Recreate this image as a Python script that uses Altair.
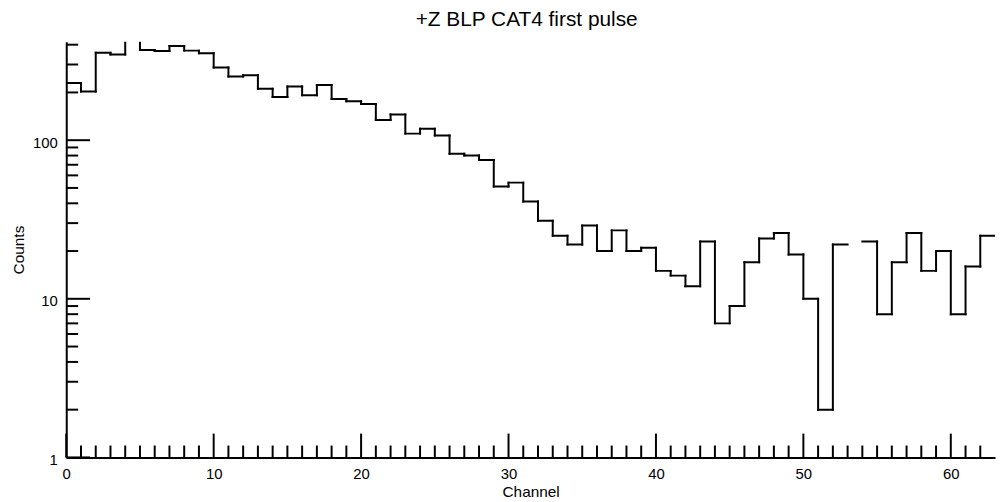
import altair as alt
import pandas as pd

# Histogram counts per channel (bins 0..62)
counts = [229, 203, 356, 347, 450, 370, 365, 393, 367, 353,
          287, 252, 257, 211, 187, 218, 192, 223, 182, 176,
          169, 134, 145, 110, 118, 107, 82, 80, 75, 51,
          54, 41, 31, 25, 22, 29, 20, 27, 20, 21,
          15, 14, 12, 23, 7, 9, 17, 24, 26, 19,
          10, 2, 22, 0, 23, 8, 17, 26, 15, 20,
          8, 16, 25]
x_major = [0, 10, 20, 30, 40, 50, 60]
x_minor = [c for c in range(1, 63) if c % 10 != 0]
y_major = [1, 10, 100]
y_minor = [2, 3, 4, 5, 6, 7, 8, 9, 20, 30, 40, 50, 60, 70, 80, 90, 200, 300, 400]

title_text = "+Z BLP CAT4 first pulse"
x_title = "Channel"
y_title = "Counts"

W, H = 936, 419
FONT = "Liberation Sans"

horiz = pd.DataFrame([{"x": i, "x2": i + 1, "y": c} for i, c in enumerate(counts) if c > 0])
vert = pd.DataFrame([{"x": i + 1, "y": counts[i], "y2": counts[i + 1]}
                     for i in range(len(counts) - 1) if counts[i] > 0 and counts[i + 1] > 0])

xs = alt.Scale(domain=[0, 63], nice=False, zero=False)
ys = alt.Scale(type="log", domain=[1, 418], nice=False)

x_axis = alt.Axis(values=x_major, format="d", ticks=False, grid=False, domainColor="black",
                  domainWidth=2, labelFont=FONT, labelFontSize=15, labelColor="black",
                  labelPadding=9, labelFlush=False, labelOverlap=False,
                  title=x_title, titleFont=FONT, titleFontSize=15.5,
                  titleFontWeight="normal", titleColor="black", titlePadding=3)
y_axis = alt.Axis(values=y_major, format="d", ticks=False, grid=False, domainColor="black",
                  domainWidth=2, labelFont=FONT, labelFontSize=15, labelColor="black",
                  labelPadding=9, labelFlush=False, labelOverlap=False, labelOffset=2,
                  title=y_title, titleFont=FONT, titleFontSize=15.5,
                  titleFontWeight="normal", titleColor="black", titlePadding=6)

X = alt.X("x:Q", scale=xs, axis=x_axis)
Y = alt.Y("y:Q", scale=ys, axis=y_axis)

h_layer = alt.Chart(horiz).mark_rule(color="black", strokeWidth=2, strokeCap="square", clip=True).encode(
    x=X, x2="x2:Q", y=Y)
v_layer = alt.Chart(vert).mark_rule(color="black", strokeWidth=2, strokeCap="square", clip=True).encode(
    x=X, y=Y, y2="y2:Q")

xt_major = alt.Chart(pd.DataFrame({"x": x_major})).mark_rule(color="black", strokeWidth=2).encode(
    x=X, y=alt.value(H), y2=alt.value(H - 24))
xt_minor = alt.Chart(pd.DataFrame({"x": x_minor})).mark_rule(color="black", strokeWidth=2).encode(
    x=X, y=alt.value(H), y2=alt.value(H - 12))
yt_major = alt.Chart(pd.DataFrame({"y": y_major})).mark_rule(color="black", strokeWidth=2).encode(
    y=Y, x=alt.value(0), x2=alt.value(24))
yt_minor = alt.Chart(pd.DataFrame({"y": y_minor})).mark_rule(color="black", strokeWidth=2).encode(
    y=Y, x=alt.value(0), x2=alt.value(12))

chart = alt.layer(h_layer, v_layer, xt_major, xt_minor, yt_major, yt_minor).properties(
    width=W, height=H,
    title=alt.TitleParams(title_text, font=FONT, fontSize=21, fontWeight="normal", color="black",
                          anchor="middle", offset=12, dx=-4),
    autosize=alt.AutoSizeParams(type="none"),
    padding={"left": 58.7, "top": 32, "right": 3, "bottom": 42},
).configure(background="white").configure_view(strokeWidth=0)

chart.save("out.html", embed_options={"renderer": "svg", "actions": False})
